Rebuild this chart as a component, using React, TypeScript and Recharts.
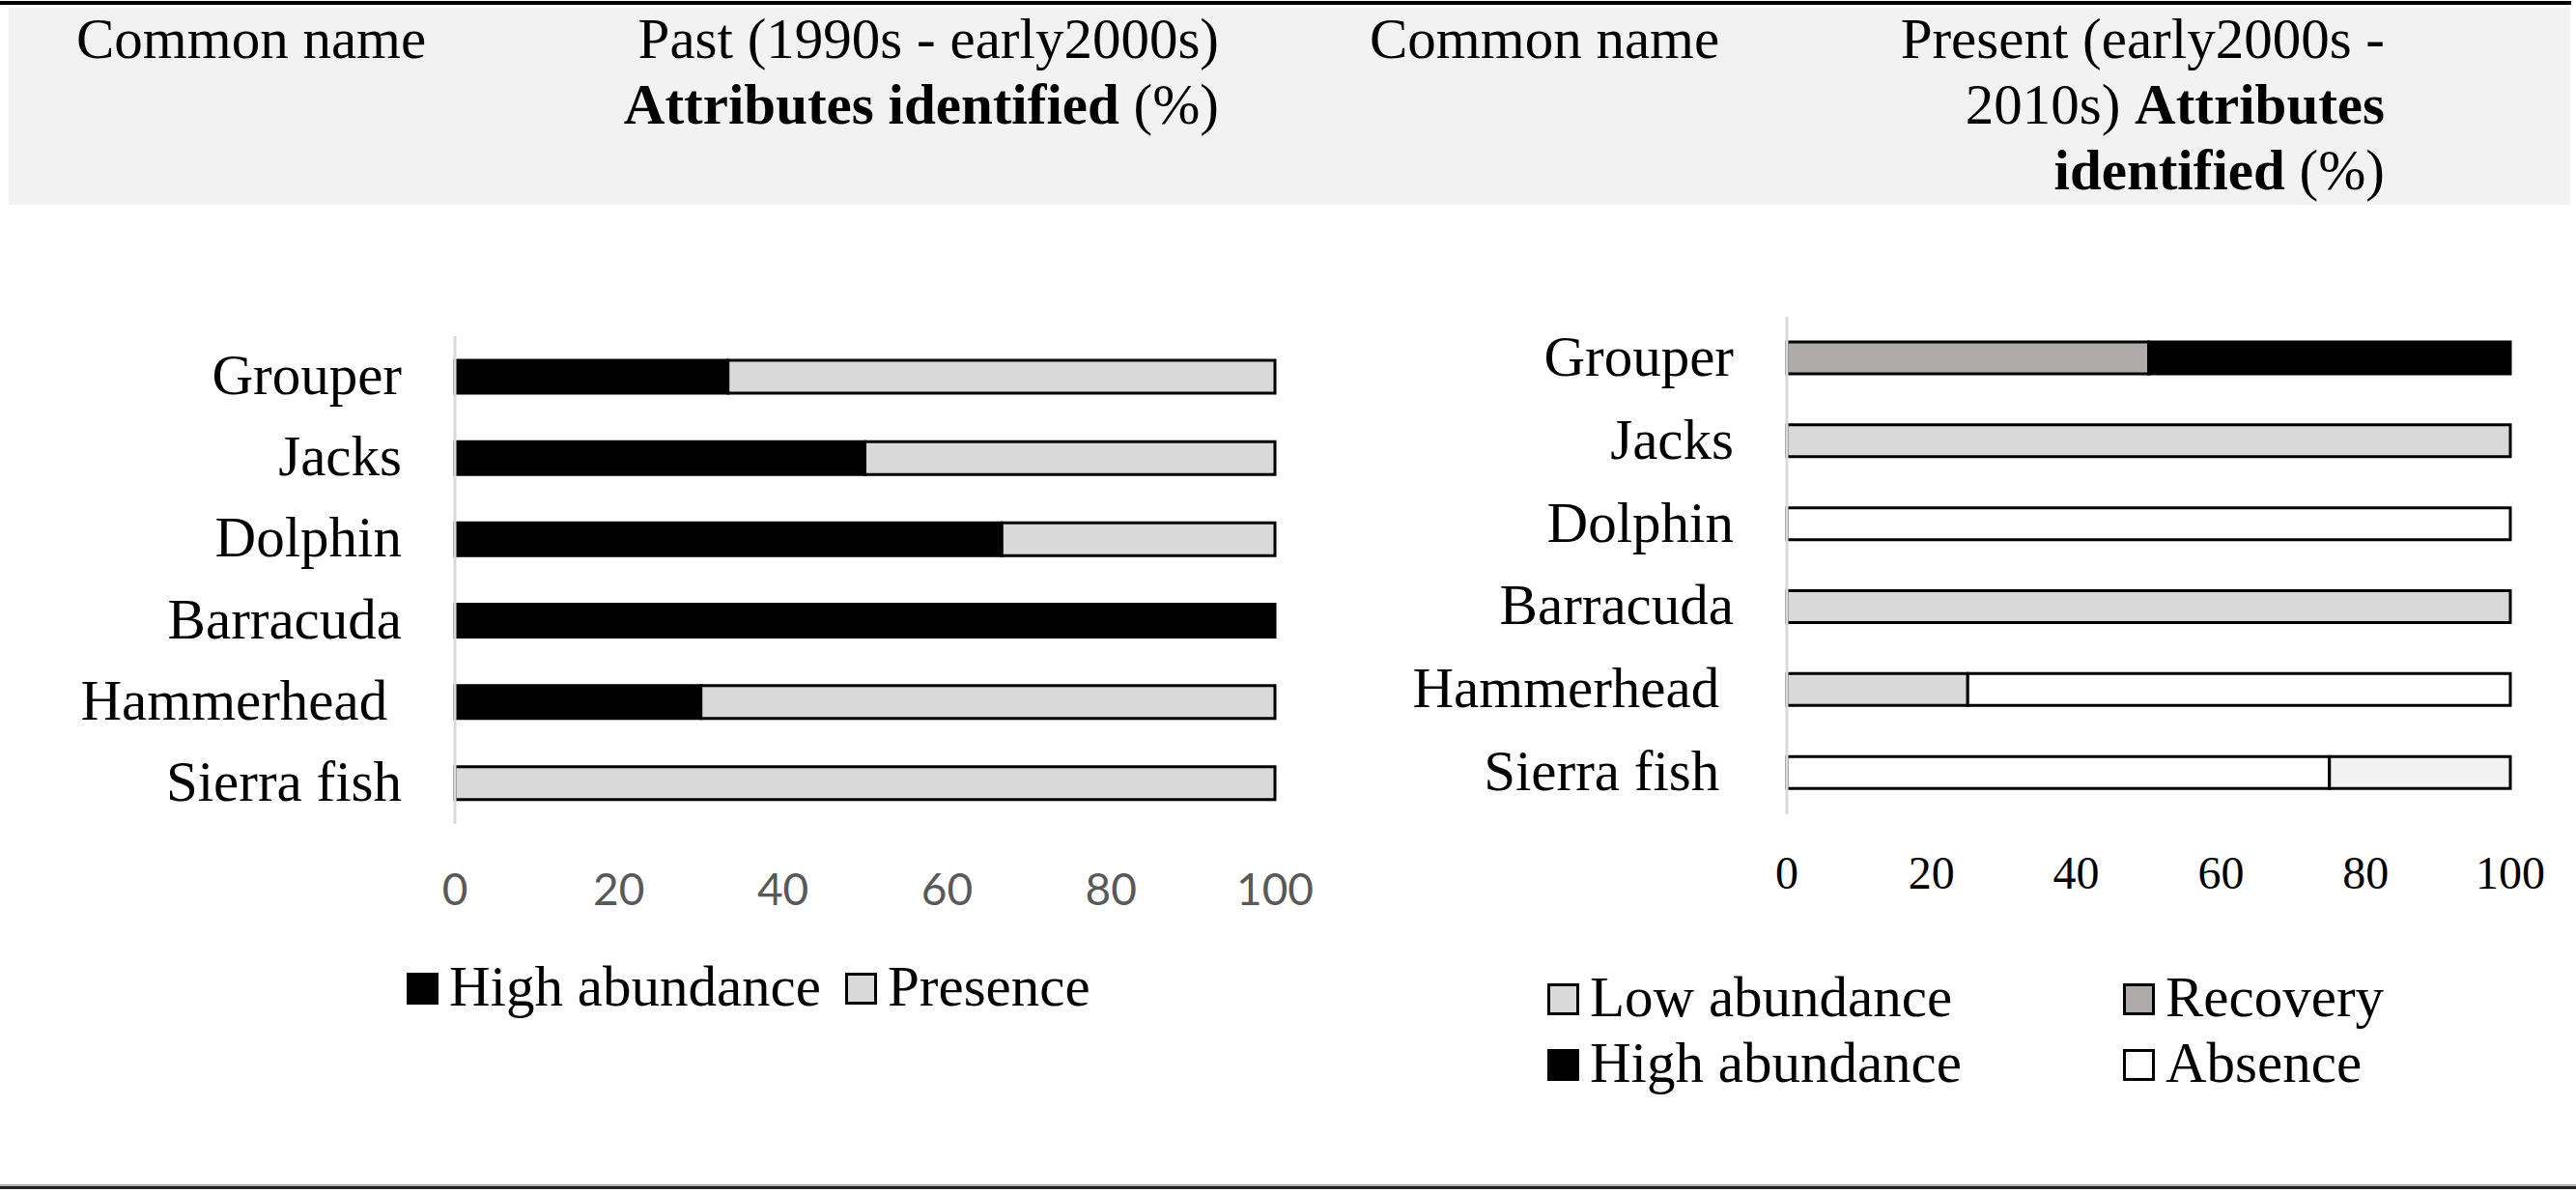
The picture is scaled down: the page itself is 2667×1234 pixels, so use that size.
import { BarChart, Bar, XAxis, YAxis } from "recharts";

// Two stacked horizontal bar charts (past vs present) set inside a table-like frame.
const SERIF = "'Liberation Serif', 'Times New Roman', serif";
const SANS = "Lato, Calibri, 'Open Sans', sans-serif";

const pastNames = ["Grouper", "Jacks", "Dolphin", "Barracuda", "Hammerhead\u00a0", "Sierra fish"];
const presentNames = ["Grouper", "Jacks", "Dolphin", "Barracuda", "Hammerhead\u00a0", "Sierra fish\u00a0"];

// past (1990s - early2000s), % of attributes
const pastHigh = [33.3, 50, 66.7, 100, 30, 0];
const pastPresence = [66.7, 50, 33.3, 0, 70, 100];

// present (early2000s - 2010s), % of attributes
const presentLow = [0, 100, 0, 100, 25, 0];
const presentRecovery = [50, 0, 0, 0, 0, 0];
const presentHigh = [50, 0, 0, 0, 0, 0];
const presentAbsence = [0, 0, 100, 0, 75, 75];
const presentOther = [0, 0, 0, 0, 0, 25];

const xTicks = [0, 20, 40, 60, 80, 100];

const pastSeries = [
  { key: "high", name: "High abundance", fill: "#000000" },
  { key: "presence", name: "Presence", fill: "#d9d9d9" },
];
const presentSeries = [
  { key: "low", name: "Low abundance", fill: "#d9d9d9" },
  { key: "recovery", name: "Recovery", fill: "#aeaaaa" },
  { key: "high", name: "High abundance", fill: "#000000" },
  { key: "absence", name: "Absence", fill: "#ffffff" },
];
const presentExtra = { key: "other", name: "Presence", fill: "#f2f2f2" };

const pastData = pastNames.map((name, i) => ({
  name,
  high: pastHigh[i],
  presence: pastPresence[i],
}));
const presentData = presentNames.map((name, i) => ({
  name,
  low: presentLow[i],
  recovery: presentRecovery[i],
  high: presentHigh[i],
  absence: presentAbsence[i],
  other: presentOther[i],
}));

function Swatch({ fill, w, h, top }: { fill: string; w: number; h: number; top: number }) {
  return (
    <div
      style={{
        width: w,
        height: h,
        marginTop: top,
        boxSizing: "border-box",
        background: fill,
        border: "3px solid #000",
        flex: "none",
      }}
    />
  );
}

function LegendItem({ name, fill, style }: { name: string; fill: string; style?: any }) {
  return (
    <div style={{ display: "flex", alignItems: "flex-start", ...style }}>
      <Swatch fill={fill} w={33} h={33} top={20} />
      <span style={{ marginLeft: 11, fontSize: 59, lineHeight: "normal", whiteSpace: "nowrap" }}>{name}</span>
    </div>
  );
}

export default function App() {
  return (
    <div
      style={{
        position: "absolute",
        left: 0,
        top: 0,
        width: 2667,
        height: 1234,
        background: "#fff",
        fontFamily: SERIF,
        color: "#000",
        overflow: "hidden",
      }}
    >
      {/* table header */}
      <div style={{ position: "absolute", left: 0, top: 1, width: 2662, height: 4, background: "#000" }} />
      <div style={{ position: "absolute", left: 9, top: 8, width: 2652, height: 204, background: "#f2f2f2" }} />
      <div style={{ position: "absolute", left: 79, top: 6, fontSize: 59, lineHeight: "68px" }}>Common name</div>
      <div
        style={{ position: "absolute", right: 2667 - 1262, top: 6, fontSize: 59, lineHeight: "68px", textAlign: "right", whiteSpace: "nowrap" }}
      >
        Past (1990s - early2000s)
        <br />
        <b>Attributes identified</b> (%)
      </div>
      <div style={{ position: "absolute", left: 1418, top: 6, fontSize: 59, lineHeight: "68px" }}>Common name</div>
      <div
        style={{ position: "absolute", right: 2667 - 2469, top: 6, fontSize: 59, lineHeight: "68px", textAlign: "right", whiteSpace: "nowrap" }}
      >
        Present (early2000s -
        <br />
        2010s) <b>Attributes</b>
        <br />
        <b>identified</b> (%)
      </div>

      {/* past chart */}
      <div style={{ position: "absolute", left: 0, top: 0 }}>
        <BarChart
          width={1400}
          height={1000}
          layout="vertical"
          data={pastData}
          margin={{ top: 348, right: 80, bottom: 67, left: 0 }}
          barSize={34}
        >
          <XAxis
            type="number"
            domain={[0, 100]}
            ticks={xTicks}
            height={80}
            axisLine={false}
            tickLine={false}
            tickSize={0}
            tickMargin={51}
            tick={{ fill: "#595959", fontSize: 46, fontFamily: SANS }}
          />
          <YAxis
            type="category"
            dataKey="name"
            width={471}
            axisLine={{ stroke: "#d9d9d9", strokeWidth: 3 }}
            tickLine={false}
            tickSize={0}
            tickMargin={55}
            tick={{ fill: "#000", fontSize: 59, fontFamily: SERIF, dy: -3 }}
          />
          {pastSeries.map((s) => (
            <Bar
              key={s.key}
              dataKey={s.key}
              name={s.name}
              stackId="a"
              fill={s.fill}
              stroke="#000"
              strokeWidth={3}
              isAnimationActive={false}
            />
          ))}
        </BarChart>
      </div>

      {/* present chart */}
      <div style={{ position: "absolute", left: 1400, top: 0 }}>
        <BarChart
          width={1267}
          height={1000}
          layout="vertical"
          data={presentData}
          margin={{ top: 328, right: 68, bottom: 77, left: 0 }}
          barSize={33}
        >
          <XAxis
            type="number"
            domain={[0, 100]}
            ticks={xTicks}
            height={80}
            axisLine={false}
            tickLine={false}
            tickSize={0}
            tickMargin={43}
            tick={{ fill: "#000", fontSize: 48, fontFamily: SERIF }}
          />
          <YAxis
            type="category"
            dataKey="name"
            width={450}
            axisLine={{ stroke: "#d9d9d9", strokeWidth: 3 }}
            tickLine={false}
            tickSize={0}
            tickMargin={55}
            tick={{ fill: "#000", fontSize: 59, fontFamily: SERIF, dy: -3 }}
          />
          {[...presentSeries, presentExtra].map((s) => (
            <Bar
              key={s.key}
              dataKey={s.key}
              name={s.name}
              stackId="a"
              fill={s.fill}
              stroke="#000"
              strokeWidth={3}
              isAnimationActive={false}
            />
          ))}
        </BarChart>
      </div>

      {/* legends */}
      <div style={{ position: "absolute", left: 421, top: 987, display: "flex" }}>
        {pastSeries.map((s, i) => (
          <LegendItem key={s.key} name={s.name} fill={s.fill} style={{ marginLeft: i ? 25 : 0 }} />
        ))}
      </div>
      {presentSeries.map((s, i) => (
        <LegendItem
          key={s.key}
          name={s.name}
          fill={s.fill}
          style={{ position: "absolute", left: i % 2 ? 2198 : 1602, top: i < 2 ? 998 : 1066 }}
        />
      ))}

      {/* table bottom rule */}
      <div style={{ position: "absolute", left: 0, top: 1226, width: 2667, height: 2, background: "#b0b0b0" }} />
      <div style={{ position: "absolute", left: 0, top: 1228, width: 2667, height: 3, background: "#222" }} />
    </div>
  );
}
